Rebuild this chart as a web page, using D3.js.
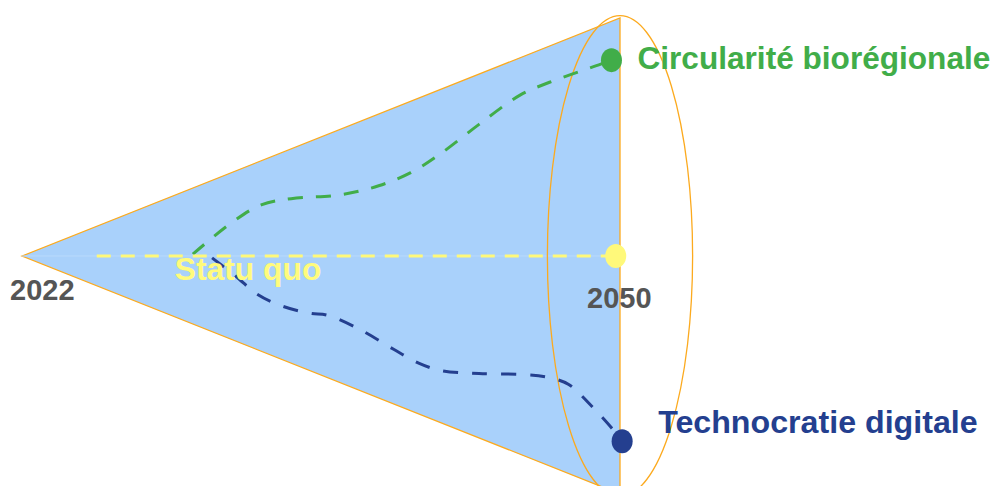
<!DOCTYPE html>
<html>
<head>
<meta charset="utf-8">
<script src="https://cdn.jsdelivr.net/npm/d3@7"></script>
<style>
  body { margin: 0; background: #fff; }
  text { font-family: Arial, "Liberation Sans", sans-serif; font-weight: bold; }
</style>
</head>
<body>
<div id="chart"></div>
<script>
const WIDTH = 995;
const HEIGHT = 486;

// time span of the cone and its opening (in "divergence" units)
const tickYears = [2022, 2050];
const coneSpread = [100, -100];
const ringSpread = 101;
const ringYears = 3.4;

const scenarios = ['Circularité biorégionale', 'Statu quo', 'Technocratie digitale'];
const scenarioColors = ['#41ad49', '#fff97a', '#243f8f'];

// end points at 2050
const endYears = [2049.6, 2049.8, 2050.1];
const endValues = [82.3, 0, -77.8];

// trajectories
const greenYears = [2030.0, 2031.8, 2033.2, 2034.6, 2036.9, 2038.7, 2040.2, 2041.6, 2043.4, 2045.3, 2046.7, 2049.1, 2049.6];
const greenValues = [0.8, 13.9, 21.5, 24.1, 25.7, 29.5, 35.0, 43.0, 55.3, 67.5, 73.0, 80.6, 82.3];

const statuQuoYears = [2025.5, 2049.8];
const statuQuoValues = [0, 0];

const navyYears = [2030.9, 2032.0, 2033.0, 2034.2, 2035.5, 2036.3, 2037.8, 2039.4, 2040.6, 2041.6, 2043.4, 2045.5, 2046.7, 2047.6, 2048.6, 2049.6, 2050.1];
const navyValues = [-0.8, -8.4, -16.0, -21.1, -24.1, -24.9, -30.8, -39.2, -45.1, -48.1, -49.4, -49.8, -51.1, -54.0, -62.4, -72.2, -77.8];

const SVG = d3.select('#chart')
    .append('svg')
    .attr('width', WIDTH)
    .attr('height', HEIGHT);

const x = d3.scaleLinear().domain(tickYears).range([22, 620]);
const y = d3.scaleLinear().domain([-100, 100]).range([494, 18]);

// the cone
const cone = [[tickYears[0], 0], [tickYears[1], coneSpread[0]], [tickYears[1], coneSpread[1]]];
SVG.append('path')
    .attr('d', 'M' + cone.map(d => [x(d[0]), y(d[1])].join(',')).join('L') + 'Z')
    .attr('fill', '#a9d1fb')
    .attr('stroke', '#fcaa1e')
    .attr('stroke-width', 1.3)
    .attr('stroke-linejoin', 'miter');

// faint seam along the axis
SVG.append('line')
    .attr('x1', x(tickYears[0])).attr('y1', y(0))
    .attr('x2', x(tickYears[1])).attr('y2', y(0))
    .attr('stroke', '#b9dafc')
    .attr('stroke-width', 1);

// 2050 ring
SVG.append('ellipse')
    .attr('cx', x(tickYears[1]))
    .attr('cy', y(0))
    .attr('rx', x(tickYears[1]) - x(tickYears[1] - ringYears))
    .attr('ry', y(-ringSpread) - y(0))
    .attr('fill', 'none')
    .attr('stroke', '#fcaa1e')
    .attr('stroke-width', 1.3);

const line = d3.line()
    .x(d => x(d[0]))
    .y(d => y(d[1]))
    .curve(d3.curveCatmullRom);

const trajectories = [
    { years: greenYears, values: greenValues, color: scenarioColors[0], dash: '15,13' },
    { years: statuQuoYears, values: statuQuoValues, color: scenarioColors[1], dash: '14,10' },
    { years: navyYears, values: navyValues, color: scenarioColors[2], dash: '15,14' }
];

SVG.append('g')
    .attr('class', 'trajectories')
    .selectAll('path')
    .data(trajectories)
    .enter().append('path')
    .attr('d', d => line(d.years.map((yr, i) => [yr, d.values[i]])))
    .attr('fill', 'none')
    .attr('stroke', d => d.color)
    .attr('stroke-width', 3)
    .attr('stroke-dasharray', d => d.dash);

// end dots
SVG.append('g')
    .attr('class', 'ends')
    .selectAll('ellipse')
    .data(scenarios)
    .enter().append('ellipse')
    .attr('cx', (d, i) => x(endYears[i]))
    .attr('cy', (d, i) => y(endValues[i]))
    .attr('rx', 10.5)
    .attr('ry', 12)
    .attr('fill', (d, i) => scenarioColors[i]);

// scenario labels
SVG.append('text')
    .attr('x', x(endYears[0]) + 26)
    .attr('y', y(endValues[0]) + 9)
    .attr('fill', scenarioColors[0])
    .style('font-size', '31.6px')
    .text(scenarios[0]);

SVG.append('text')
    .attr('x', x(endYears[2]) + 36)
    .attr('y', y(endValues[2]) - 8)
    .attr('fill', scenarioColors[2])
    .style('font-size', '32.2px')
    .text(scenarios[2]);

SVG.append('text')
    .attr('x', x(statuQuoYears[0]) + 78)
    .attr('y', y(0) + 24)
    .attr('fill', '#fffb7d')
    .style('font-size', '31.8px')
    .text(scenarios[1]);

// year labels
SVG.append('g')
    .attr('class', 'years')
    .selectAll('text')
    .data(tickYears)
    .enter().append('text')
    .attr('x', (d, i) => x(d) + (i === 0 ? -12 : -33))
    .attr('y', (d, i) => y(0) + (i === 0 ? 44 : 52))
    .attr('fill', '#555555')
    .style('font-size', '29px')
    .text(d => d);
</script>
</body>
</html>
